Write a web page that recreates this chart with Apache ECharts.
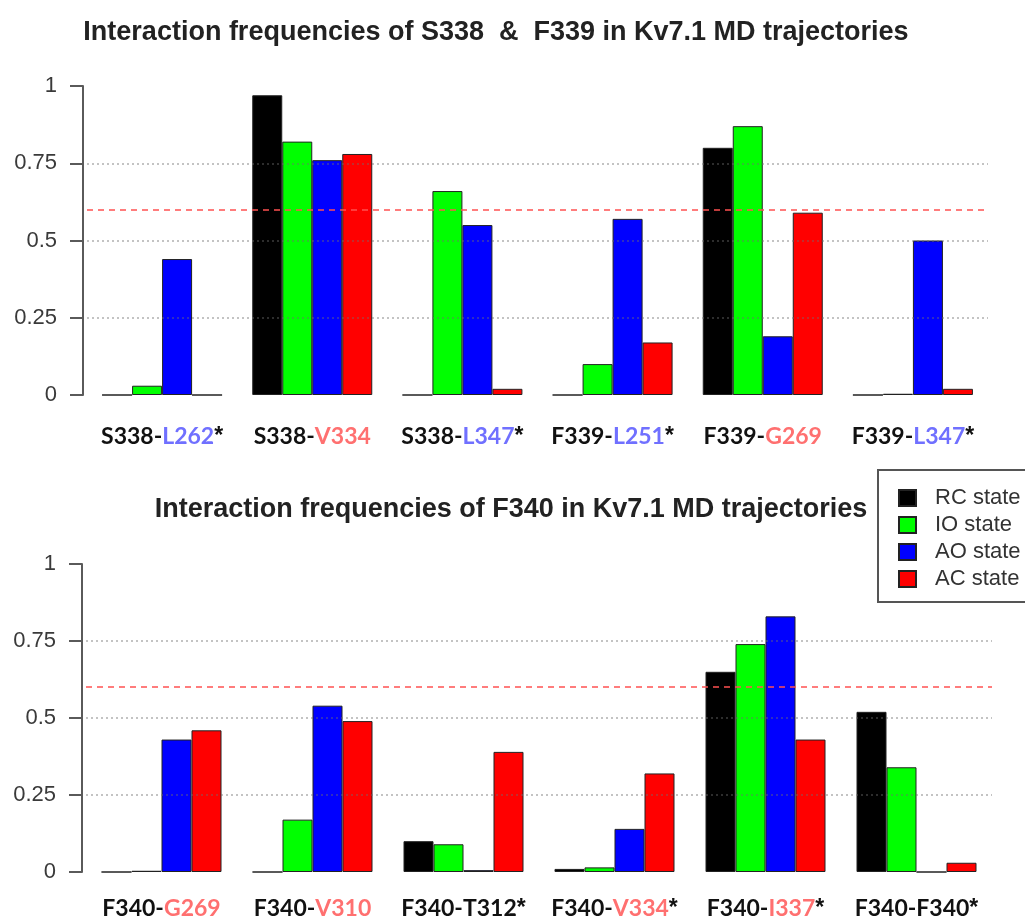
<!DOCTYPE html>
<html><head><meta charset="utf-8">
<script src="https://cdn.jsdelivr.net/npm/echarts@6/dist/echarts.min.js"></script>
<style>html,body{margin:0;padding:0;background:#fff}#c{width:1025px;height:923px}</style>
</head><body><div id="c"></div>
<script>
// ---------- data ----------
const stateNames = ['RC state', 'IO state', 'AO state', 'AC state'];
const stateColors = ['#000000', '#00ff00', '#0000ff', '#ff0000'];

const topTitle = 'Interaction frequencies of S338  &  F339 in Kv7.1 MD trajectories';
const bottomTitle = 'Interaction frequencies of F340 in Kv7.1 MD trajectories';

const topCategories = ['S338-L262*', 'S338-V334', 'S338-L347*', 'F339-L251*', 'F339-G269', 'F339-L347*'];
const topPartnerColors = ['blue', 'red', 'blue', 'blue', 'red', 'blue'];
const topRC = [0, 0.97, 0, 0, 0.80, 0];
const topIO = [0.03, 0.82, 0.66, 0.10, 0.87, 0.004];
const topAO = [0.44, 0.76, 0.55, 0.57, 0.19, 0.50];
const topAC = [0, 0.78, 0.02, 0.17, 0.59, 0.02];

const bottomCategories = ['F340-G269', 'F340-V310', 'F340-T312*', 'F340-V334*', 'F340-I337*', 'F340-F340*'];
const bottomPartnerColors = ['red', 'red', 'black', 'red', 'red', 'black'];
const bottomRC = [0, 0, 0.10, 0.01, 0.65, 0.52];
const bottomIO = [0.004, 0.17, 0.09, 0.015, 0.74, 0.34];
const bottomAO = [0.43, 0.54, 0.006, 0.14, 0.83, 0];
const bottomAC = [0.46, 0.49, 0.39, 0.32, 0.43, 0.03];

const threshold = 0.6;
const yMin = 0, yMax = 1, yInterval = 0.25;
const gridLineValues = [0.25, 0.5, 0.75];

// ---------- helpers ----------
const labelFont = 'Lato';
const richStyles = {
  k: { color: '#111', fontFamily: labelFont, fontWeight: 'bold', fontSize: 23 },
  star: { color: '#111', fontFamily: 'Liberation Sans', fontWeight: 'bold', fontSize: 23 },
  black: { color: '#111', fontFamily: labelFont, fontWeight: 'bold', fontSize: 23 },
  blue: { color: '#7070ff', fontFamily: labelFont, fontWeight: 'bold', fontSize: 23 },
  red: { color: '#ff7070', fontFamily: labelFont, fontWeight: 'bold', fontSize: 23 }
};
function labelFormatter(colors) {
  return function (value, idx) {
    const parts = value.split('-');
    const b = parts[1];
    const star = b.endsWith('*');
    const core = star ? b.slice(0, -1) : b;
    let s = '{k|' + parts[0] + '-}{' + colors[idx] + '|' + core + '}';
    if (star) s += '{star|*}';
    return s;
  };
}
function xAxisDef(idx, cats, colors, margin) {
  return {
    type: 'category', gridIndex: idx, data: cats,
    axisLine: { show: false }, axisTick: { show: false },
    axisLabel: { margin: margin, formatter: labelFormatter(colors), rich: richStyles, interval: 0 }
  };
}
function yAxisDef(idx) {
  return {
    type: 'value', gridIndex: idx, min: yMin, max: yMax, interval: yInterval, offset: 4,
    axisLine: { show: true, lineStyle: { color: '#5a5a5a', width: 2 } },
    axisTick: { show: true, length: 13, lineStyle: { color: '#5a5a5a', width: 2 } },
    axisLabel: { margin: 26, color: '#3a3a3a', fontFamily: 'Liberation Sans', fontSize: 22 },
    splitLine: { show: false }
  };
}
function makeSeries(vals, i, axis) {
  const s = {
    name: stateNames[i], type: 'bar', xAxisIndex: axis, yAxisIndex: axis, data: vals,
    barWidth: 30, barGap: '0%',
    itemStyle: { color: stateColors[i], borderColor: '#222', borderWidth: 1 },
    emphasis: { disabled: true }, animation: false
  };
  if (i === 3) {
    s.markLine = {
      silent: true, symbol: ['none', 'none'], label: { show: false }, animation: false,
      data: gridLineValues.map(v => ({ yAxis: v, lineStyle: { color: 'rgba(110,110,110,0.55)', type: [2, 3], width: 1.5 } }))
        .concat([{ yAxis: threshold, lineStyle: { color: 'rgba(255,80,80,0.75)', type: [6, 5], width: 2 } }])
    };
  }
  return s;
}

const chart = echarts.init(document.getElementById('c'), null, { renderer: 'canvas' });
const titleStyle = { fontFamily: 'Liberation Sans', fontWeight: 'bold', fontSize: 27, color: '#222' };
chart.setOption({
  backgroundColor: '#ffffff',
  animation: false,
  title: [
    { text: topTitle, left: 496, top: 19, textAlign: 'center', padding: 0, textStyle: titleStyle },
    { text: bottomTitle, left: 511, top: 496, textAlign: 'center', padding: 0, textStyle: titleStyle }
  ],
  legend: {
    orient: 'vertical', left: 898, top: 487, itemWidth: 17, itemHeight: 16, itemGap: 5, padding: 0,
    data: stateNames, icon: 'rect', selectedMode: false,
    textStyle: { fontFamily: 'Liberation Sans', fontSize: 22, color: '#333', lineHeight: 20, padding: [0, 0, 0, 14] }
  },
  graphic: [
    { type: 'rect', shape: { x: 878, y: 470, width: 170, height: 132 }, style: { fill: 'none', stroke: '#555', lineWidth: 2 }, silent: true }
  ],
  grid: [
    { left: 87, top: 86, width: 901, height: 309 },
    { left: 86, top: 564, width: 906, height: 308 }
  ],
  xAxis: [
    xAxisDef(0, topCategories, topPartnerColors, 30),
    xAxisDef(1, bottomCategories, bottomPartnerColors, 25)
  ],
  yAxis: [yAxisDef(0), yAxisDef(1)],
  series: [
    makeSeries(topRC, 0, 0), makeSeries(topIO, 1, 0), makeSeries(topAO, 2, 0), makeSeries(topAC, 3, 0),
    makeSeries(bottomRC, 0, 1), makeSeries(bottomIO, 1, 1), makeSeries(bottomAO, 2, 1), makeSeries(bottomAC, 3, 1)
  ]
});
</script></body></html>
